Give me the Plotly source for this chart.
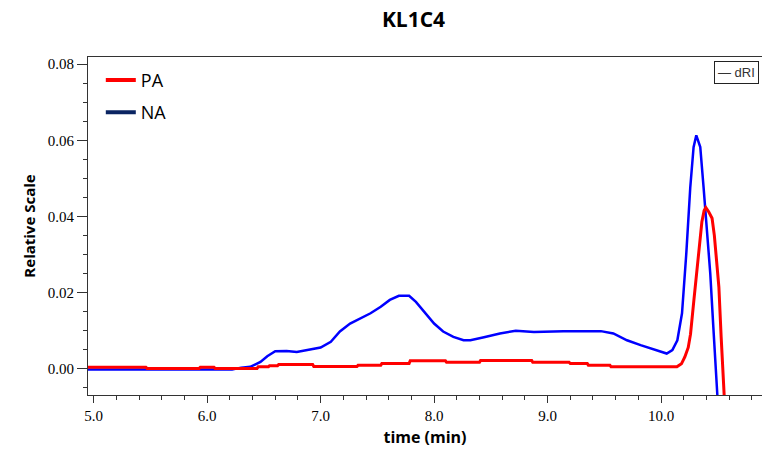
import plotly.graph_objects as go

# PA trace (red)
pa_time = [4.95, 5.46, 5.47, 5.93, 5.94, 6.06, 6.07, 6.44, 6.45, 6.54, 6.55, 6.62, 6.63, 6.93,
           6.94, 7.32, 7.33, 7.53, 7.54, 7.78, 7.79, 8.10, 8.11, 8.40, 8.41, 8.86, 8.87, 9.19,
           9.20, 9.35, 9.36, 9.55, 9.56, 10.14, 10.18, 10.21, 10.24, 10.26, 10.29, 10.33, 10.36,
           10.38, 10.395, 10.42, 10.45, 10.47, 10.48, 10.50, 10.51, 10.53, 10.546, 10.56]
pa_signal = [0.0003, 0.0003, 0.0, 0.0, 0.0003, 0.0003, 0.0, 0.0, 0.0004, 0.0004, 0.0007, 0.0007,
             0.0010, 0.0010, 0.0005, 0.0005, 0.0008, 0.0008, 0.0013, 0.0013, 0.0020, 0.0020,
             0.0016, 0.0016, 0.0021, 0.0021, 0.0016, 0.0016, 0.0013, 0.0013, 0.0008, 0.0008,
             0.0004, 0.0004, 0.0012, 0.0030, 0.0055, 0.0090, 0.0180, 0.0300, 0.0385, 0.0415,
             0.0423, 0.0412, 0.0395, 0.0350, 0.0310, 0.0250, 0.0214, 0.0083, -0.003, -0.009]

# NA trace (blue)
na_time = [4.95, 6.22, 6.30, 6.38, 6.47, 6.53, 6.60, 6.70, 6.79, 6.90, 7.00, 7.09, 7.17, 7.26,
           7.35, 7.44, 7.53, 7.61, 7.69, 7.78, 7.84, 7.91, 8.00, 8.08, 8.17, 8.26, 8.32, 8.44,
           8.58, 8.72, 8.88, 9.14, 9.47, 9.58, 9.70, 9.82, 9.93, 10.05, 10.10, 10.144, 10.185,
           10.223, 10.258, 10.287, 10.311, 10.346, 10.375, 10.405, 10.434, 10.461, 10.493, 10.499]
na_signal = [-0.0003, -0.0003, 0.0002, 0.0004, 0.0017, 0.0032, 0.0045, 0.0046, 0.0043, 0.0049,
             0.0055, 0.0070, 0.0097, 0.0118, 0.0131, 0.0145, 0.0162, 0.0180, 0.0191, 0.0191,
             0.0175, 0.0149, 0.0118, 0.0097, 0.0083, 0.0074, 0.0074, 0.0082, 0.0092, 0.0099,
             0.0096, 0.0098, 0.0098, 0.0092, 0.0074, 0.0061, 0.0050, 0.0039, 0.0048, 0.0074,
             0.0145, 0.0303, 0.0477, 0.0582, 0.0613, 0.0582, 0.0477, 0.0372, 0.0250, 0.0109,
             -0.0039, -0.0083]

fig = go.Figure()

fig.add_trace(go.Scatter(x=na_time, y=na_signal, mode='lines', showlegend=False,
                         line=dict(color='#0000ff', width=2.5)))
fig.add_trace(go.Scatter(x=pa_time, y=pa_signal, mode='lines', showlegend=False,
                         line=dict(color='#ff0000', width=3)))

# legend entries (legend swatch colours differ from the drawn lines)
fig.add_trace(go.Scatter(x=[None], y=[None], mode='lines', name='PA', legendgroup='a',
                         line=dict(color='#ff0000', width=4)))
fig.add_trace(go.Scatter(x=[None], y=[None], mode='lines', name='NA', legendgroup='b',
                         line=dict(color='#0a2462', width=4)))

fig.add_annotation(xref='paper', yref='paper', x=0.9625, y=0.955, text='— dRI',
                   xanchor='center', yanchor='middle',
                   showarrow=False, font=dict(family='Liberation Sans', size=13, color='#333333'),
                   bordercolor='#222222', borderwidth=1, borderpad=3, bgcolor='white')

fig.update_layout(
    width=763, height=454,
    margin=dict(l=87.5, r=1, t=56.7, b=59),
    paper_bgcolor='white', plot_bgcolor='white',
    title=dict(text='<b>KL1C4</b>', xref='container', yref='container', x=0.542, y=0.956,
               xanchor='center', yanchor='middle',
               font=dict(family='Open Sans', size=21, color='black')),
    legend=dict(x=0.019, y=0.986, xanchor='left', yanchor='top', traceorder='grouped',
                tracegroupgap=6, bgcolor='rgba(0,0,0,0)',
                font=dict(family='Open Sans', size=18, color='black')),
    xaxis=dict(range=[4.95, 10.89], dtick=1, tick0=0, tickformat='.1f', automargin=False,
               showgrid=False, zeroline=False, showline=True, linecolor='#333333',
               mirror=True, ticks='outside', ticklen=7, tickcolor='#333333',
               minor=dict(dtick=0.2, ticks='outside', ticklen=4, tickcolor='#333333'),
               tickfont=dict(family='Liberation Serif', size=15, color='black'),
               title=dict(text='<b>time (min)</b>', standoff=8,
                          font=dict(family='Open Sans', size=16, color='black'))),
    yaxis=dict(range=[-0.0070, 0.0819], dtick=0.02, tick0=0, tickformat='.2f', automargin=False,
               showgrid=False, zeroline=False, showline=True, linecolor='#333333',
               ticks='outside', ticklen=10, tickcolor='#333333',
               minor=dict(dtick=0.005, ticks='outside', ticklen=4, tickcolor='#333333'),
               tickfont=dict(family='Liberation Serif', size=15, color='black'),
               title=dict(text='<b>Relative Scale</b>', standoff=8,
                          font=dict(family='Open Sans', size=15, color='black'))),
)

# drop the page's default body margin so the figure fills the window exactly
fig.write_html("out.html", config={'displayModeBar': False},
               post_script="document.body.style.margin='0';document.body.style.overflow='hidden';")
